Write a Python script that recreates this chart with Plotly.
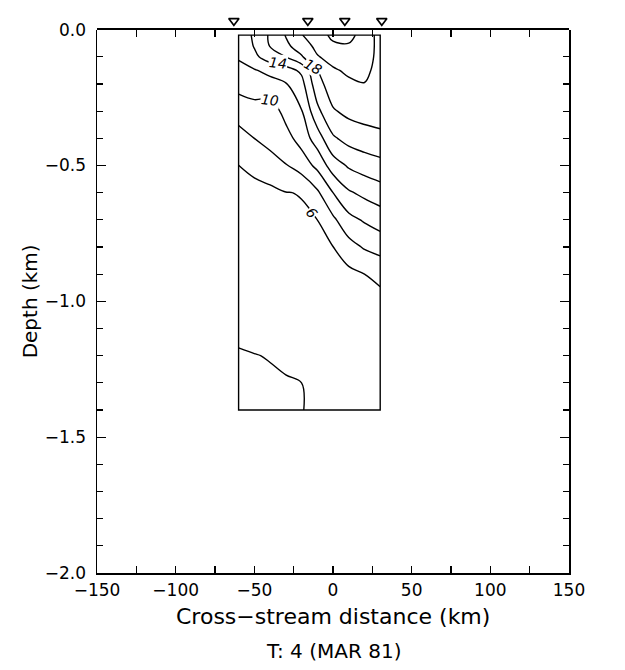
import plotly.graph_objects as go

# ---- grid of the section (km) ----
x_km = [-60, -50, -40, -30, -20, -10, 0, 10, 20, 30]
depth_km = [-0.02, -0.06, -0.1, -0.15, -0.2, -0.3, -0.4, -0.5, -0.6,
            -0.7, -0.8, -0.9, -1.0, -1.1, -1.2, -1.3, -1.4]

# temperature profiles (deg C) read from the isotherms, one list per x position
temp_x_m60 = [13.0, 12.59, 12.18, 11.48, 10.70, 8.84, 7.24, 5.99, 5.68, 5.38, 5.07, 4.77, 4.46, 4.15, 3.94, 3.82, 3.70]
temp_x_m50 = [14.25, 14.11, 13.6, 11.82, 10.91, 9.33, 8.0, 6.46, 5.45, 5.3, 5.1, 4.86, 4.55, 4.25, 3.98, 3.86, 3.75]
temp_x_m40 = [16.3, 16.1, 14.95, 12.64, 11.18, 9.0, 8.60, 7.26, 5.5, 5.35, 5.2, 4.95, 4.65, 4.34, 4.03, 3.91, 3.80]
temp_x_m30 = [18.1, 17.6, 16.0, 13.19, 11.88, 10.63, 9.31, 7.89, 5.95, 5.65, 5.35, 5.05, 4.75, 4.45, 4.12, 3.95, 3.85]
temp_x_m20 = [19.9, 18.91, 17.81, 14.37, 13.33, 11.89, 10.78, 8.91, 6.07, 5.78, 5.48, 5.19, 4.89, 4.59, 4.30, 4.0, 3.9]
temp_x_m10 = [21.2, 20.57, 19.85, 18.0, 17.23, 15.5, 13.0, 10.5, 7.67, 6.0, 5.8, 5.6, 5.4, 5.2, 5.0, 4.8, 4.6]
temp_x_0 = [22.4, 21.69, 20.72, 19.75, 19.13, 17.8, 15.71, 13.0, 10.0, 7.6, 5.97, 5.81, 5.65, 5.48, 5.32, 5.16, 5.0]
temp_x_10 = [22.5, 21.83, 21.17, 20.33, 19.66, 18.51, 16.71, 14.25, 11.75, 9.4, 7.25, 5.5, 5.45, 5.4, 5.35, 5.3, 5.25]
temp_x_20 = [21.3, 21.0, 20.7, 20.4, 19.95, 18.79, 17.18, 14.89, 12.5, 10.22, 8.2, 6.0, 5.7, 5.6, 5.5, 5.42, 5.35]
temp_x_30 = [19.2, 19.4, 19.5, 19.4, 19.2, 18.8, 17.56, 15.33, 13.11, 10.89, 8.8, 6.35, 5.6, 5.55, 5.5, 5.45, 5.4]

# isotherm labels as printed on the section
label_text = ["14", "18", "10", "6"]
label_x = [-35, -12.5, -40, -13.5]
label_depth = [-0.124, -0.137, -0.258, -0.675]
label_angle = [6, 30, 6, 51]

# station positions (triangles above the section)
station_x = [-63, -16, 7.5, 31]
station_level = [0.5, 0.5, 0.5, 0.5]

# section box
box_x = [-60, 30]
box_depth = [-1.4, -0.02]

# axis ticks
x_tick_vals = [-150, -100, -50, 0, 50, 100, 150]
x_tick_text = ["\u2212150", "\u2212100", "\u221250", "0", "50", "100", "150"]
y_tick_vals = [0.0, -0.5, -1.0, -1.5, -2.0]
y_tick_text = ["0.0", "\u22120.5", "\u22121.0", "\u22121.5", "\u22122.0"]

columns = [temp_x_m60, temp_x_m50, temp_x_m40, temp_x_m30, temp_x_m20,
           temp_x_m10, temp_x_0, temp_x_10, temp_x_20, temp_x_30]
z = [[col[i] for col in columns] for i in range(len(depth_km))]

FONT = "DejaVu Sans"
MAIN_TOP = 0.9685  # main panel occupies the area below the station strip

fig = go.Figure()

fig.add_trace(go.Contour(
    x=x_km, y=depth_km, z=z,
    contours=dict(start=4, end=22, size=2, coloring="none", showlabels=False),
    line=dict(color="black", width=1.4, smoothing=1.0),
    showscale=False, hoverinfo="skip"))

# station triangles in a thin strip above the section
fig.add_trace(go.Scatter(
    x=station_x, y=station_level, xaxis="x2", yaxis="y2",
    mode="markers", cliponaxis=False,
    marker=dict(symbol="triangle-down-open", size=9, color="black",
                line=dict(color="black", width=1.6)),
    hoverinfo="skip", showlegend=False))

fig.add_shape(type="rect", xref="x", yref="y",
              x0=box_x[0], x1=box_x[1], y0=box_depth[0], y1=box_depth[1],
              line=dict(color="black", width=1.4))

tick_font = dict(family=FONT, size=17, color="black")
x_minor = dict(dtick=25, tick0=-150, ticks="inside", ticklen=7,
               tickcolor="black", tickwidth=1.3)

fig.update_layout(
    xaxis=dict(range=[-150, 150], tickvals=x_tick_vals, ticktext=x_tick_text,
               ticks="inside", ticklen=7, tickwidth=1.3, tickcolor="black",
               ticklabelstandoff=1, ticklabeloverflow="allow",
               tickfont=tick_font, anchor="y", mirror=False,
               showline=True, linecolor="black", linewidth=1.5,
               showgrid=False, zeroline=False, minor=x_minor),
    xaxis2=dict(range=[-150, 150], tickvals=x_tick_vals, overlaying="x",
                anchor="y", side="top", showticklabels=False,
                ticks="inside", ticklen=7, tickwidth=1.3, tickcolor="black",
                showline=True, linecolor="black", linewidth=1.5,
                showgrid=False, zeroline=False, minor=x_minor),
    yaxis=dict(range=[-2, 0], tickvals=y_tick_vals, ticktext=y_tick_text,
               ticks="inside", ticklen=9, tickwidth=1.3, tickcolor="black",
               ticklabelstandoff=6, tickfont=tick_font,
               domain=[0, MAIN_TOP], anchor="x", mirror="allticks",
               showline=True, linecolor="black", linewidth=1.5,
               showgrid=False, zeroline=False,
               minor=dict(dtick=0.1, tick0=0, ticks="inside", ticklen=6,
                          tickcolor="black", tickwidth=1.3)),
    yaxis2=dict(domain=[MAIN_TOP, 1], range=[0, 1], anchor="x2",
                visible=False, fixedrange=True),
)

annotations = [
    dict(text="Cross\u2212stream distance (km)", xref="paper", yref="paper",
         x=0.5, y=-0.0771, xanchor="center", yanchor="middle",
         showarrow=False, font=dict(family=FONT, size=22, color="black")),
    dict(text="Depth (km)", xref="paper", yref="paper",
         x=-0.142, y=0.4842, xanchor="center", yanchor="middle", textangle=-90,
         showarrow=False, font=dict(family=FONT, size=20, color="black")),
    dict(text="T: 4 (MAR 81)", xref="paper", yref="paper",
         x=0.5, y=-0.1384, xanchor="center", yanchor="middle",
         showarrow=False, font=dict(family=FONT, size=20, color="black")),
]
for t, lx, ld, ang in zip(label_text, label_x, label_depth, label_angle):
    annotations.append(dict(
        text=t, x=lx, y=ld, xref="x", yref="y", showarrow=False,
        textangle=ang, bgcolor="white", borderpad=0,
        font=dict(family=FONT, size=14, color="black", style="italic")))

fig.update_layout(
    width=625, height=670,
    margin=dict(l=97, r=56, t=2, b=97),
    paper_bgcolor="white", plot_bgcolor="white",
    showlegend=False,
    annotations=annotations,
)

fig.write_html("out.html",
               config={"displayModeBar": False, "staticPlot": True},
               post_script="document.body.style.margin='0px';"
                           "document.body.style.overflow='hidden';")
